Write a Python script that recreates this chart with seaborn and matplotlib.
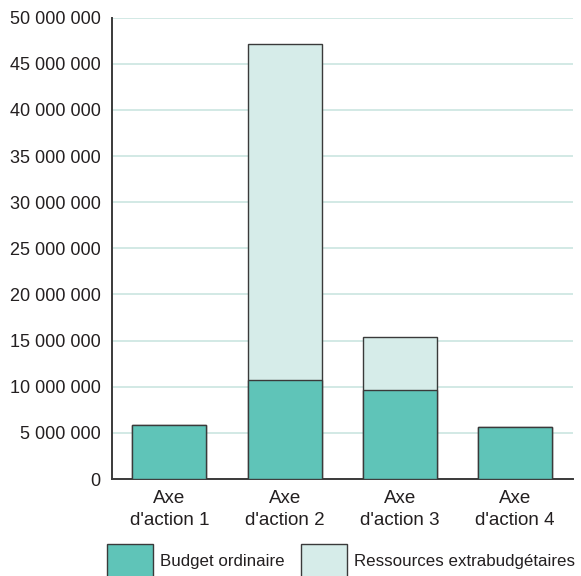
import matplotlib
matplotlib.use("Agg")
import matplotlib.pyplot as plt
from matplotlib.ticker import FuncFormatter, MultipleLocator
import seaborn as sns
import pandas as pd

# Budget par axe d'action (en dollars)
axes_action = ["Axe\nd'action 1", "Axe\nd'action 2", "Axe\nd'action 3", "Axe\nd'action 4"]
budget_ordinaire = [5_830_000, 10_720_000, 9_600_000, 5_620_000]
ressources_extra = [0, 36_480_000, 5_760_000, 0]
series_labels = ["Budget ordinaire", "Ressources extrabudgétaires"]

couleur_ordinaire = "#5fc4b8"
couleur_extra = "#d6ece9"
couleur_grille = "#cfe7e3"
couleur_texte = "#231f20"

df = pd.DataFrame({
    "axe": axes_action,
    "ordinaire": budget_ordinaire,
    "total": [a + b for a, b in zip(budget_ordinaire, ressources_extra)],
})

sns.set_theme(style="white")
plt.rcParams["font.family"] = ["Liberation Sans", "DejaVu Sans"]
plt.rcParams["text.color"] = couleur_texte

fig = plt.figure(figsize=(5.81, 5.76), dpi=100)
ax = fig.add_axes([0.1923, 0.1684, 0.9860 - 0.1923, 0.9693 - 0.1684])

# Stacked bars: total (light) underneath, regular budget (dark) on top
sns.barplot(data=df, x="axe", y="total", color=couleur_extra, saturation=1,
            width=0.64, edgecolor="#3a3a3a", linewidth=1.0,
            label=series_labels[1], ax=ax, zorder=2)
sns.barplot(data=df, x="axe", y="ordinaire", color=couleur_ordinaire, saturation=1,
            width=0.64, edgecolor="#3a3a3a", linewidth=1.0,
            label=series_labels[0], ax=ax, zorder=3)

ax.set_ylim(0, 50_000_000)
ax.set_xlim(-0.5, 3.5)
ax.yaxis.set_major_locator(MultipleLocator(5_000_000))
ax.yaxis.set_major_formatter(FuncFormatter(lambda v, p: f"{int(v):,}".replace(",", " ")))

ax.grid(axis="y", color=couleur_grille, linewidth=1.3, zorder=0)
ax.grid(axis="x", visible=False)
ax.set_axisbelow(True)

for side in ("top", "right"):
    ax.spines[side].set_visible(False)
for side in ("left", "bottom"):
    ax.spines[side].set_color("#3a3a3a")
    ax.spines[side].set_linewidth(1.4)

ax.set_xlabel("")
ax.set_ylabel("")
ax.tick_params(axis="both", length=0, labelcolor=couleur_texte)
ax.tick_params(axis="y", pad=8, labelsize=13)
ax.tick_params(axis="x", pad=8, labelsize=13.5)
for lbl in ax.get_xticklabels():
    lbl.set_linespacing(1.35)

handles, labels = ax.get_legend_handles_labels()
order = [labels.index(series_labels[0]), labels.index(series_labels[1])]
leg = fig.legend([handles[i] for i in order], [labels[i] for i in order],
                 loc="upper left", bbox_to_anchor=(107 / 581, 1 - 544 / 576),
                 ncol=2, frameon=False, fontsize=12.2, borderpad=0, borderaxespad=0,
                 handlelength=2.72, handleheight=2.6, handletextpad=0.42,
                 columnspacing=0.95)
if ax.get_legend() is not None:
    ax.get_legend().remove()

fig.savefig("out.png", dpi=100)
